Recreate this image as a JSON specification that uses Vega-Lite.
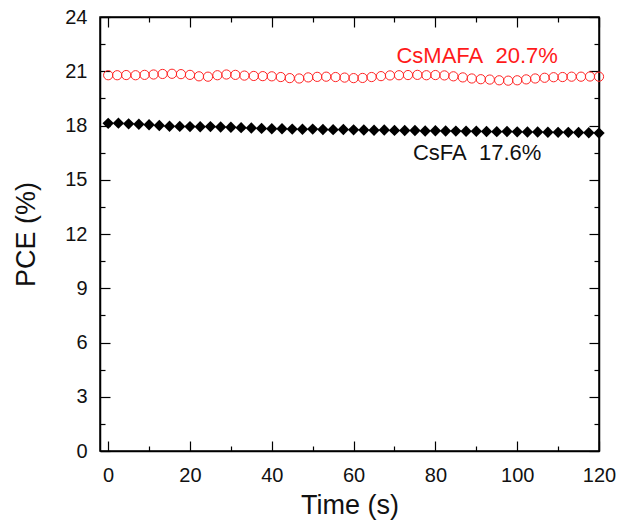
{
  "$schema": "https://vega.github.io/schema/vega-lite/v6.json",
  "width": 499,
  "height": 434,
  "autosize": {"type": "none"},
  "padding": {"left": 100, "top": 17, "right": 24, "bottom": 80},
  "background": "white",
  "config": {
    "view": {"stroke": "black", "strokeWidth": 1.5},
    "font": "Liberation Sans",
    "axis": {"domainColor": "black", "domainWidth": 1.5, "tickColor": "black", "tickWidth": 1.2, "grid": false, "labelColor": "#111", "titleColor": "#111", "labelFontSize": 20, "titleFontSize": 27, "titleFontWeight": "normal", "labelFont": "Liberation Sans", "titleFont": "Liberation Sans"}
  },
  "datasets": {
    "csmafa": [
      {"t": 0, "pce": 20.78}, {"t": 2.2, "pce": 20.78}, {"t": 4.4, "pce": 20.79}, {"t": 6.7, "pce": 20.78}, {"t": 8.9, "pce": 20.8},
      {"t": 11.1, "pce": 20.82}, {"t": 13.3, "pce": 20.85}, {"t": 15.6, "pce": 20.86}, {"t": 17.8, "pce": 20.84}, {"t": 20, "pce": 20.8},
      {"t": 22.2, "pce": 20.72}, {"t": 24.4, "pce": 20.7}, {"t": 26.7, "pce": 20.78}, {"t": 28.9, "pce": 20.82}, {"t": 31.1, "pce": 20.8},
      {"t": 33.3, "pce": 20.76}, {"t": 35.6, "pce": 20.74}, {"t": 37.8, "pce": 20.73}, {"t": 40, "pce": 20.72}, {"t": 42.2, "pce": 20.68},
      {"t": 44.4, "pce": 20.62}, {"t": 46.7, "pce": 20.6}, {"t": 48.9, "pce": 20.66}, {"t": 51.1, "pce": 20.69}, {"t": 53.3, "pce": 20.7},
      {"t": 55.6, "pce": 20.68}, {"t": 57.8, "pce": 20.65}, {"t": 60, "pce": 20.62}, {"t": 62.2, "pce": 20.63}, {"t": 64.4, "pce": 20.68},
      {"t": 66.7, "pce": 20.73}, {"t": 68.9, "pce": 20.77}, {"t": 71.1, "pce": 20.78}, {"t": 73.3, "pce": 20.79}, {"t": 75.6, "pce": 20.8},
      {"t": 77.8, "pce": 20.78}, {"t": 80, "pce": 20.79}, {"t": 82.2, "pce": 20.77}, {"t": 84.4, "pce": 20.72}, {"t": 86.7, "pce": 20.66},
      {"t": 88.9, "pce": 20.6}, {"t": 91.1, "pce": 20.56}, {"t": 93.3, "pce": 20.54}, {"t": 95.6, "pce": 20.5}, {"t": 97.8, "pce": 20.48},
      {"t": 100, "pce": 20.5}, {"t": 102.2, "pce": 20.55}, {"t": 104.4, "pce": 20.6}, {"t": 106.7, "pce": 20.64}, {"t": 108.9, "pce": 20.67},
      {"t": 111.1, "pce": 20.68}, {"t": 113.3, "pce": 20.7}, {"t": 115.6, "pce": 20.7}, {"t": 117.8, "pce": 20.71}, {"t": 120, "pce": 20.7}
    ],
    "csfa": [
      {"t": 0, "pce": 18.12}, {"t": 2.5, "pce": 18.13}, {"t": 5, "pce": 18.09}, {"t": 7.5, "pce": 18.07}, {"t": 10, "pce": 18.04},
      {"t": 12.5, "pce": 18.0}, {"t": 15, "pce": 17.96}, {"t": 17.5, "pce": 17.95}, {"t": 20, "pce": 17.94}, {"t": 22.5, "pce": 17.93},
      {"t": 25, "pce": 17.94}, {"t": 27.5, "pce": 17.92}, {"t": 30, "pce": 17.9}, {"t": 32.5, "pce": 17.88}, {"t": 35, "pce": 17.86},
      {"t": 37.5, "pce": 17.84}, {"t": 40, "pce": 17.82}, {"t": 42.5, "pce": 17.82}, {"t": 45, "pce": 17.8}, {"t": 47.5, "pce": 17.79},
      {"t": 50, "pce": 17.8}, {"t": 52.5, "pce": 17.78}, {"t": 55, "pce": 17.77}, {"t": 57.5, "pce": 17.78}, {"t": 60, "pce": 17.76},
      {"t": 62.5, "pce": 17.75}, {"t": 65, "pce": 17.74}, {"t": 67.5, "pce": 17.75}, {"t": 70, "pce": 17.73}, {"t": 72.5, "pce": 17.72},
      {"t": 75, "pce": 17.72}, {"t": 77.5, "pce": 17.7}, {"t": 80, "pce": 17.71}, {"t": 82.5, "pce": 17.7}, {"t": 85, "pce": 17.69},
      {"t": 87.5, "pce": 17.68}, {"t": 90, "pce": 17.68}, {"t": 92.5, "pce": 17.67}, {"t": 95, "pce": 17.66}, {"t": 97.5, "pce": 17.67},
      {"t": 100, "pce": 17.65}, {"t": 102.5, "pce": 17.64}, {"t": 105, "pce": 17.64}, {"t": 107.5, "pce": 17.63}, {"t": 110, "pce": 17.62},
      {"t": 112.5, "pce": 17.62}, {"t": 115, "pce": 17.61}, {"t": 117.5, "pce": 17.6}, {"t": 120, "pce": 17.58}
    ],
    "labels": [
      {"t": 90.2, "pce": 21.84, "text": "CsMAFA\u00a0\u00a020.7%", "series": "CsMAFA"},
      {"t": 90.2, "pce": 16.5, "text": "CsFA\u00a0\u00a017.6%", "series": "CsFA"}
    ]
  },
  "resolve": {"axis": {"x": "independent", "y": "independent"}},
  "layer": [
    {
      "data": {"name": "csmafa"},
      "mark": {"type": "point", "shape": "circle", "filled": false, "color": "#ff2424", "size": 85, "strokeWidth": 1, "opacity": 1},
      "encoding": {
        "x": {"field": "t", "type": "quantitative", "scale": {"domain": [-2, 120], "nice": false, "zero": false},
          "axis": {"orient": "bottom", "title": "Time (s)", "values": [0,10,20,30,40,50,60,70,80,90,100,110,120],
            "labelExpr": "datum.value % 20 === 0 ? datum.label : ''",
            "tickSize": {"condition": {"test": "datum.value % 20 === 0", "value": -10}, "value": -5},
            "labelPadding": 24, "titlePadding": 7, "labelFlush": false}},
        "y": {"field": "pce", "type": "quantitative", "scale": {"domain": [0, 24], "nice": false, "zero": false},
          "axis": {"orient": "left", "title": "PCE (%)", "values": [0,1.5,3,4.5,6,7.5,9,10.5,12,13.5,15,16.5,18,19.5,21,22.5,24],
            "labelExpr": "datum.value % 3 === 0 ? datum.label : ''",
            "tickSize": {"condition": {"test": "datum.value % 3 === 0", "value": -10}, "value": -5},
            "labelPadding": 23, "titlePadding": 24}}
      }
    },
    {
      "data": {"name": "csfa"},
      "mark": {"type": "point", "shape": "diamond", "filled": true, "color": "black", "size": 130, "opacity": 1},
      "encoding": {
        "x": {"field": "t", "type": "quantitative", "scale": {"domain": [-2, 120], "nice": false, "zero": false}, "axis": null},
        "y": {"field": "pce", "type": "quantitative", "scale": {"domain": [0, 24], "nice": false, "zero": false}, "axis": null}
      }
    },
    {
      "data": {"name": "labels"},
      "mark": {"type": "text", "fontSize": 22, "font": "Liberation Sans", "align": "center", "baseline": "middle"},
      "encoding": {
        "x": {"field": "t", "type": "quantitative", "scale": {"domain": [-2, 120], "nice": false, "zero": false},
          "axis": {"orient": "top", "title": null, "labels": false, "values": [0,10,20,30,40,50,60,70,80,90,100,110,120],
            "tickSize": {"condition": {"test": "datum.value % 20 === 0", "value": -10}, "value": -5}}},
        "y": {"field": "pce", "type": "quantitative", "scale": {"domain": [0, 24], "nice": false, "zero": false},
          "axis": {"orient": "right", "title": null, "labels": false, "values": [0,1.5,3,4.5,6,7.5,9,10.5,12,13.5,15,16.5,18,19.5,21,22.5,24],
            "tickSize": {"condition": {"test": "datum.value % 3 === 0", "value": -10}, "value": -5}}},
        "text": {"field": "text"},
        "color": {"field": "series", "type": "nominal", "scale": {"domain": ["CsMAFA", "CsFA"], "range": ["#ff1a1a", "#111111"]}, "legend": null}
      }
    }
  ]
}
